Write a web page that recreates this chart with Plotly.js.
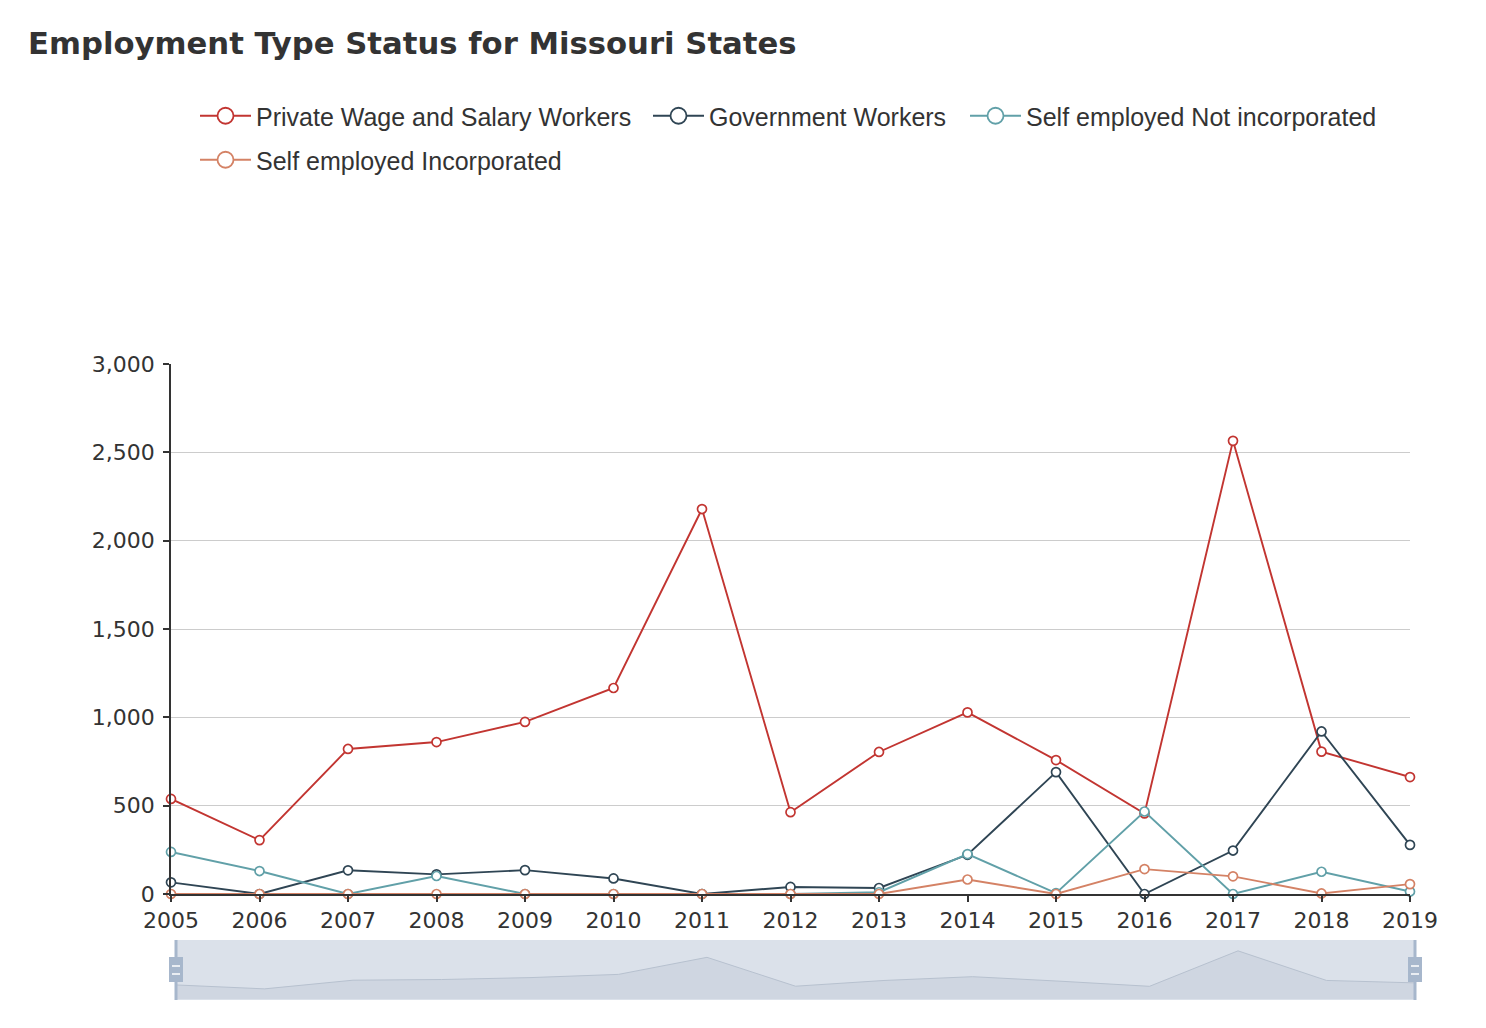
<!DOCTYPE html>
<html>
<head>
<meta charset="utf-8">
<script src="https://cdn.plot.ly/plotly-3.0.1.min.js"></script>
<style>html,body{margin:0;padding:0;background:#fff;}#chart{width:1486px;height:1028px;}</style>
</head>
<body>
<div id="chart"></div>
<script>
const years = [2005, 2006, 2007, 2008, 2009, 2010, 2011, 2012, 2013, 2014, 2015, 2016, 2017, 2018, 2019];
const privateWage = [538, 305, 821, 860, 974, 1166, 2179, 463, 804, 1028, 758, 456, 2565, 806, 662];
const government = [66, 0, 134, 111, 135, 88, 0, 40, 34, 222, 690, 0, 246, 920, 278];
const selfNotInc = [238, 130, 0, 102, 0, 0, 0, 0, 10, 226, 5, 467, 0, 126, 14];
const selfInc = [0, 0, 0, 0, 0, 0, 0, 0, 0, 82, 0, 141, 100, 3, 56];
const seriesNames = ["Private Wage and Salary Workers", "Government Workers", "Self employed Not incorporated", "Self employed Incorporated"];
const colors = ["#c23531", "#2f4554", "#61a0a8", "#d48265"];
const seriesData = [privateWage, government, selfNotInc, selfInc];

const W = 1486, H = 1028;
const FONT = "Liberation Sans, Arial, Helvetica, sans-serif";
const TICKFONT = "DejaVu Sans, Verdana, sans-serif";
const px = v => v / W;
const py = v => 1 - v / H;

const legendIds = ["legend", "legend2", "legend3", "legend4"];
const legendPos = [[195, 116], [648, 116], [965, 116], [195, 160]];

const traces = [];
seriesData.forEach((vals, i) => {
  traces.push({
    x: years, y: vals, type: "scatter", mode: "lines+markers",
    name: seriesNames[i], showlegend: false,
    line: {color: colors[i], width: 1.9},
    marker: {symbol: "circle", size: 9, color: "#ffffff", line: {color: colors[i], width: 1.7}},
    xaxis: "x", yaxis: "y", cliponaxis: false
  });
});
// legend entries (larger symbols like the reference)
seriesData.forEach((vals, i) => {
  traces.push({
    x: [null], y: [null], type: "scatter", mode: "lines+markers",
    name: seriesNames[i], showlegend: true, legend: legendIds[i],
    line: {color: colors[i], width: 1.9},
    marker: {symbol: "circle", size: 16, color: "#ffffff", line: {color: colors[i], width: 1.8}},
    xaxis: "x", yaxis: "y"
  });
});
// data zoom overview
traces.push({
  x: years, y: privateWage, type: "scatter", mode: "lines", fill: "tozeroy",
  fillcolor: "#cfd6e1", line: {color: "#b7c1cf", width: 1},
  showlegend: false, hoverinfo: "skip", xaxis: "x2", yaxis: "y2"
});

const layout = {
  width: W, height: H,
  margin: {l: 0, r: 0, t: 0, b: 0},
  paper_bgcolor: "#ffffff", plot_bgcolor: "rgba(0,0,0,0)",
  font: {family: FONT, color: "#333333"},
  title: {
    text: "<b>Employment Type Status for Missouri States</b>",
    font: {family: TICKFONT, size: 30.7, color: "#333333"},
    xref: "paper", yref: "paper", x: px(28), xanchor: "left", y: py(43), yanchor: "middle"
  },
  showlegend: true,
  xaxis: {
    domain: [px(171), px(1410)], anchor: "y",
    range: [2005, 2019], tickvals: years, ticktext: years.map(String),
    showgrid: false, zeroline: false, showline: true, linecolor: "#333333", linewidth: 1.5,
    ticks: "outside", ticklen: 6, tickcolor: "#333333", tickwidth: 1.5,
    tickfont: {family: TICKFONT, size: 22, color: "#333333"}, fixedrange: true
  },
  yaxis: {
    domain: [py(894), py(364)], anchor: "x",
    range: [0, 3000], dtick: 500, tickformat: ",",
    showgrid: true, gridcolor: "#cccccc", gridwidth: 1, zeroline: false,
    showline: true, linecolor: "#333333", linewidth: 1.5,
    ticks: "outside", ticklen: 6, tickcolor: "#333333", tickwidth: 1.5, ticklabelstandoff: 4,
    tickfont: {family: TICKFONT, size: 22, color: "#333333"}, fixedrange: true
  },
  xaxis2: {
    domain: [px(176), px(1415)], anchor: "y2", range: [2005, 2019],
    showgrid: false, zeroline: false, showline: false, showticklabels: false, ticks: "", fixedrange: true
  },
  yaxis2: {
    domain: [py(1000), py(940)], anchor: "x2", range: [-357, 3210],
    showgrid: false, zeroline: false, showline: false, showticklabels: false, ticks: "", fixedrange: true
  },
  shapes: [
    {type: "rect", xref: "paper", yref: "paper", x0: px(176), x1: px(1415), y0: py(1000), y1: py(940),
     fillcolor: "#dbe1ea", line: {width: 0}, layer: "below"},
    {type: "rect", xref: "paper", yref: "paper", x0: px(176), x1: px(1415), y0: py(999), y1: py(994),
     fillcolor: "#cfd6e1", line: {width: 0}, layer: "above"},
    {type: "line", xref: "paper", yref: "paper", x0: px(176), x1: px(176), y0: py(1000), y1: py(940),
     line: {color: "#a7b7cc", width: 3}, layer: "above"},
    {type: "line", xref: "paper", yref: "paper", x0: px(1415), x1: px(1415), y0: py(1000), y1: py(940),
     line: {color: "#a7b7cc", width: 3}, layer: "above"},
    {type: "rect", xref: "paper", yref: "paper", x0: px(169), x1: px(183), y0: py(982), y1: py(957),
     fillcolor: "#a7b7cc", line: {width: 0}, layer: "above"},
    {type: "rect", xref: "paper", yref: "paper", x0: px(1408), x1: px(1422), y0: py(982), y1: py(957),
     fillcolor: "#a7b7cc", line: {width: 0}, layer: "above"},
    {type: "line", xref: "paper", yref: "paper", x0: px(172), x1: px(180), y0: py(966), y1: py(966),
     line: {color: "#ffffff", width: 1.5}, layer: "above"},
    {type: "line", xref: "paper", yref: "paper", x0: px(172), x1: px(180), y0: py(974), y1: py(974),
     line: {color: "#ffffff", width: 1.5}, layer: "above"},
    {type: "line", xref: "paper", yref: "paper", x0: px(1411), x1: px(1419), y0: py(966), y1: py(966),
     line: {color: "#ffffff", width: 1.5}, layer: "above"},
    {type: "line", xref: "paper", yref: "paper", x0: px(1411), x1: px(1419), y0: py(974), y1: py(974),
     line: {color: "#ffffff", width: 1.5}, layer: "above"}
  ],
  hovermode: "closest"
};
legendIds.forEach((id, i) => {
  layout[id] = {
    orientation: "h", x: px(legendPos[i][0]), xanchor: "left", y: py(legendPos[i][1]), yanchor: "middle",
    font: {family: FONT, size: 25, color: "#333333"},
    itemwidth: 51, bgcolor: "rgba(0,0,0,0)", borderwidth: 0
  };
});

Plotly.newPlot("chart", traces, layout, {displayModeBar: false});
</script>
</body>
</html>
